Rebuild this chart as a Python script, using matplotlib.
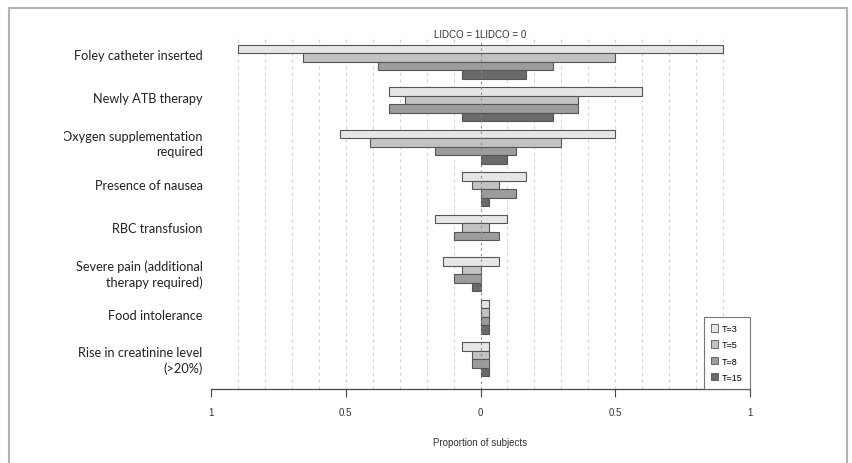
import matplotlib
matplotlib.use("Agg")
import matplotlib.pyplot as plt
from matplotlib.patches import Patch, Rectangle
import numpy as np

# ------------------------------
# DATA
# ------------------------------
categories = [
    "Foley catheter inserted",
    "Newly ATB therapy",
    "Oxygen supplementation\nrequired",
    "Presence of nausea",
    "RBC transfusion",
    "Severe pain (additional\ntherapy required)",
    "Food intolerance",
    "Rise in creatinine level\n(>20%)",
]
times = ["T=3", "T=5", "T=8", "T=15"]

# proportions, LIDCO = 1 (drawn to the left)
lidco1_t3 = [0.90, 0.34, 0.52, 0.07, 0.17, 0.14, 0.00, 0.07]
lidco1_t5 = [0.66, 0.28, 0.41, 0.03, 0.07, 0.07, 0.00, 0.03]
lidco1_t8 = [0.38, 0.34, 0.17, 0.00, 0.10, 0.10, 0.00, 0.03]
lidco1_t15 = [0.07, 0.07, 0.00, 0.00, 0.00, 0.03, 0.00, 0.00]

# proportions, LIDCO = 0 (drawn to the right)
lidco0_t3 = [0.90, 0.60, 0.50, 0.17, 0.10, 0.07, 0.03, 0.03]
lidco0_t5 = [0.50, 0.36, 0.30, 0.07, 0.03, 0.00, 0.03, 0.03]
lidco0_t8 = [0.27, 0.36, 0.13, 0.13, 0.07, 0.00, 0.03, 0.03]
lidco0_t15 = [0.17, 0.27, 0.10, 0.03, 0.00, 0.00, 0.03, 0.03]

left_vals = [lidco1_t3, lidco1_t5, lidco1_t8, lidco1_t15]
right_vals = [lidco0_t3, lidco0_t5, lidco0_t8, lidco0_t15]
colors = ["#e6e6e6", "#c2c2c2", "#9c9c9c", "#6a6a6a"]

# ------------------------------
# PLOT
# ------------------------------
fig = plt.figure(figsize=(8.52, 4.64), dpi=100)
ax = fig.add_axes([211 / 852, 1 - 390 / 464, 539 / 852, 355 / 464])

small = ["Liberation Sans Narrow", "Liberation Sans", "DejaVu Sans"]

for j, (lv, rv) in enumerate(zip(left_vals, right_vals)):
    for i in range(len(categories)):
        if lv[i] == 0 and rv[i] == 0:
            continue
        ax.barh(i * 5 + j, lv[i] + rv[i], left=-lv[i], height=1.0,
                color=colors[j], edgecolor="#555555", linewidth=0.8, zorder=2)

# dashed vertical guides
for gx in np.arange(-0.9, 1.01, 0.1):
    if abs(gx) < 1e-9:
        continue
    ax.axvline(gx, ymax=0.985, color="#d4d4d4", linestyle=(0, (3, 3)), linewidth=0.8, zorder=1)
ax.axvline(0, ymax=0.985, color="#8a8a8a", linestyle=(0, (2, 3)), linewidth=0.8, zorder=3)

ax.set_xlim(-1, 1)
ax.set_ylim(40, -1.76)

for s in ["top", "left", "right"]:
    ax.spines[s].set_visible(False)
ax.spines["bottom"].set_bounds(-1, 1)
ax.spines["bottom"].set_color("#444444")
ax.spines["bottom"].set_linewidth(0.9)

ax.set_xticks([-1, -0.5, 0, 0.5, 1])
ax.set_xticklabels(["1", "0.5", "0", "0.5", "1"], family=small, fontsize=7, color="#333333")
ax.tick_params(axis="x", length=6, width=0.8, color="#444444", pad=7)
ax.set_xlabel("Proportion of subjects", family=small, fontsize=7, color="#333333", labelpad=14)

ax.set_yticks([i * 5.1 + 0.6 for i in range(len(categories))])
ax.set_yticklabels(categories, family=["Lato", "DejaVu Sans"], fontsize=9.2, color="#222222",
                   linespacing=1.3)
ax.tick_params(axis="y", length=0, pad=6)

# clip the first letter of the oxygen label like in the source
oxy = ax.get_yticklabels()[2]
clip = Rectangle((64 / 852, 0), 1, 1, transform=fig.transFigure, facecolor="none")
oxy.set_clip_path(clip)

ax.text(0, -1.76, "LIDCO = 1", ha="right", va="center", family=small, fontsize=7, color="#333333")
ax.text(0, -1.76, "LIDCO = 0", ha="left", va="center", family=small, fontsize=7, color="#333333")

handles = [Patch(facecolor=c, edgecolor="#555555", linewidth=0.6) for c in colors]
leg = ax.legend(handles, times, loc="lower right", bbox_to_anchor=(1.0, 0.0), borderaxespad=0,
                prop={"family": small, "size": 6.5}, handlelength=0.7, handleheight=0.9,
                handletextpad=0.5, labelspacing=0.8, borderpad=0.8, fancybox=False)
leg.get_frame().set_edgecolor("#555555")
leg.get_frame().set_linewidth(0.8)
leg.set_zorder(5)

# light frame around the whole picture
fig.patches.append(Rectangle((9 / 852, -0.05), 838 / 852, 1.05 - 9 / 464, transform=fig.transFigure,
                             fill=False, edgecolor="#b4b4b4", linewidth=1.5))

plt.savefig("out.png", dpi=100)
plt.close()
